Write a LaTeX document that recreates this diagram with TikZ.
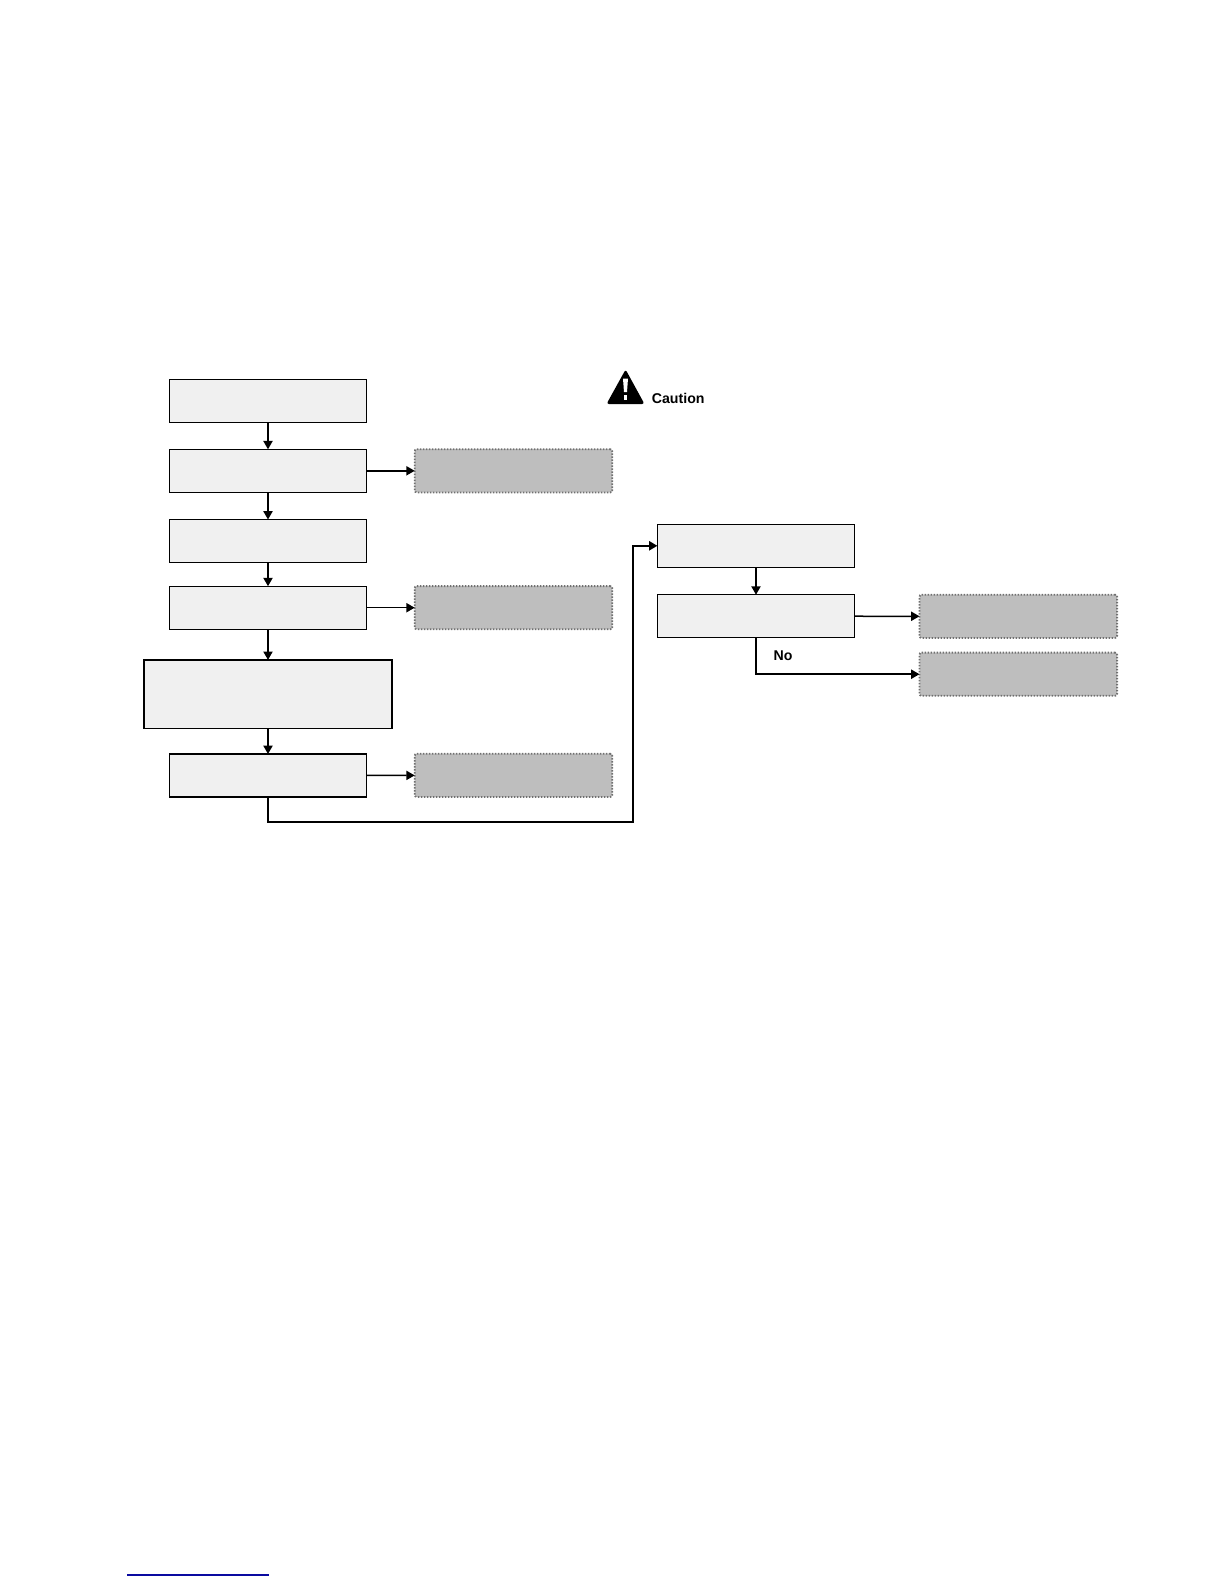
\documentclass[tikz,border=0pt]{standalone}
\usepackage{fontspec}
\setmainfont{Liberation Sans}
\usetikzlibrary{positioning,arrows.meta}
\definecolor{boxfill}{HTML}{F0F0F0}
\definecolor{outfill}{HTML}{BEBEBE}
\definecolor{outline}{HTML}{707070}
\definecolor{linkblue}{HTML}{0A0AA0}

\begin{document}
\begin{tikzpicture}[
  x=0.5bp, y=-0.5bp,
  proc/.style={draw=black, line width=0.7bp, fill=boxfill, inner sep=0, outer sep=0,
               minimum width=98.6bp, minimum height=21.5bp},
  % the one box that is taller and wider than the others
  procwide/.style={proc, minimum width=124bp, minimum height=34.4bp},
  outcome/.style={draw=outline, line width=0.9bp, dash pattern=on 0.75bp off 0.75bp,
                  rounded corners=1bp, fill=outfill, inner sep=0, outer sep=0,
                  minimum width=98.8bp, minimum height=21.6bp},
  flow/.style={draw=black, line width=0.75bp, -{Triangle[length=4.2bp, width=4.6bp]}},
  lbl/.style={font=\fontsize{7.1}{8}\selectfont\bfseries, text=black, inner sep=0}
]
\useasboundingbox (0,0) rectangle (1224,1584);

% ══ left column ════════════════════════════════════════════════════════════
\node[proc] (stepa) at (268,400.7) {};
\node[proc] (stepb) at (268,470.8) {};
\node[proc] (stepc) at (268,541) {};
\node[proc] (stepd) at (268,607.7) {};
\node[procwide] (stepe) at (268,694.3) {};
\node[proc] (stepf) at (268,775.5) {};

% ══ grey outcomes of the left column ═══════════════════════════════════════
\node[outcome] (resa) at (513.5,470.8) {};
\node[outcome] (resb) at (513.5,607.7) {};
\node[outcome] (resc) at (513.5,775.3) {};

% ══ right column ═══════════════════════════════════════════════════════════
\node[proc] (stepg) at (756,545.8) {};
\node[proc] (steph) at (756,616.2) {};
\node[outcome] (resd) at (1018.3,616.3) {};
\node[outcome] (rese) at (1018.3,674.2) {};

% ══ connectors ═════════════════════════════════════════════════════════════
\foreach \from/\to in {stepa/stepb, stepb/stepc, stepc/stepd, stepd/stepe,
                       stepe/stepf, stepg/steph}{
  \draw[flow] (\from) -- (\to);
}
\foreach \from/\to in {stepb/resa, stepd/resb, stepf/resc, steph/resd}{
  \draw[flow] (\from) -- (\to);
}
\coordinate (turn) at (632.7,822.3);
\draw[flow, line width=1bp] (stepf.south) |- (turn) |- (stepg.west);
\draw[flow] (steph.south) |- (rese.west);
\node[lbl] (nolabel) at (783,656) {No};

% ══ caution sign ═══════════════════════════════════════════════════════════
\fill[black, rounded corners=1.2bp] (625.6,369.5) -- (644.5,404) -- (606.5,404) -- cycle;
\fill[white] (623,378.5) -- (628,378.5) -- (627,392) -- (624,392) -- cycle;
\fill[white] (623.6,394.5) rectangle (627.4,399.5);
\node[lbl, anchor=west] (cautionlabel) at (651.5,398.5) {Caution};

% ══ rule at the foot of the page ═══════════════════════════════════════════
\draw[linkblue, line width=0.65bp] (127,1575) -- (269,1575);

\end{tikzpicture}
\end{document}
